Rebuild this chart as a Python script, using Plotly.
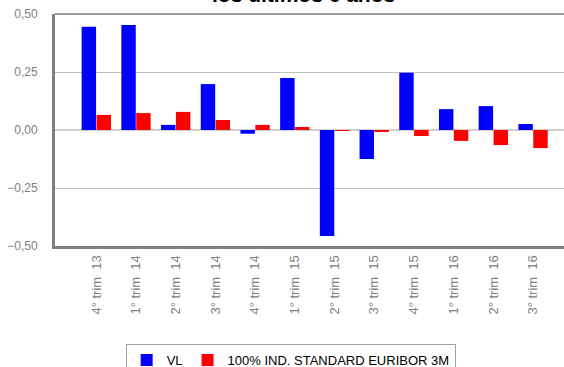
import plotly.graph_objects as go

# Quarterly returns: fund (VL) vs benchmark
quarters = ["4° trim  13", "1° trim  14", "2° trim  14", "3° trim  14",
            "4° trim  14", "1° trim  15", "2° trim  15", "3° trim  15",
            "4° trim  15", "1° trim  16", "2° trim  16", "3° trim  16"]
vl = [0.445, 0.453, 0.022, 0.198, -0.016, 0.224, -0.457, -0.125,
      0.247, 0.090, 0.103, 0.026]
benchmark = [0.065, 0.073, 0.078, 0.043, 0.022, 0.013, -0.003, -0.008,
             -0.026, -0.047, -0.065, -0.078]

y_ticks = [-0.5, -0.25, 0, 0.25, 0.5]

fig = go.Figure()
fig.add_trace(go.Bar(x=quarters, y=vl, name="VL", marker_color="#0000ff",
                     marker_line_width=0))
fig.add_trace(go.Bar(x=quarters, y=benchmark,
                     name="100% IND. STANDARD EURIBOR 3M",
                     marker_color="#ff0000", marker_line_width=0))

fig.update_layout(
    width=564, height=367,
    margin=dict(l=55, r=0, t=14, b=121),
    paper_bgcolor="white", plot_bgcolor="white",
    separators=",.",
    barmode="group", bargap=0.25, bargroupgap=0.03,
    font=dict(family="Liberation Sans, Arial, sans-serif", size=12, color="#808080"),
    showlegend=True,
    legend=dict(orientation="h", x=0.463, xanchor="center",
                y=1 - 344 / 367, yref="container", yanchor="top",
                bordercolor="#a0a0a0", borderwidth=1,
                font=dict(color="#000000", size=13),
                itemwidth=30, traceorder="normal"),
    xaxis=dict(range=[-1.04, 11.78], tickangle=-90, showgrid=False,
               showline=True, linecolor="#808080", linewidth=3,
               ticks="", ticklabelstandoff=1,
               tickfont=dict(size=13, color="#808080")),
    yaxis=dict(range=[-0.5, 0.5], tickvals=y_ticks, tickformat=".2f",
               showgrid=True, gridcolor="#c0c0c0", gridwidth=1,
               zeroline=True, zerolinecolor="#d0d0d0", zerolinewidth=2,
               showline=True, linecolor="#808080", linewidth=3,
               ticks="", ticklabelstandoff=12,
               tickfont=dict(size=12, color="#808080")),
    shapes=[dict(type="line", xref="paper", yref="paper", x0=0, x1=1,
                 y0=1, y1=1, line=dict(color="#999999", width=2))],
    annotations=[dict(text="<b>los últimos 6 años</b>", xref="paper",
                      yref="paper", x=(303.5 - 55) / 509, y=1.026,
                      xanchor="center", yanchor="bottom", showarrow=False,
                      font=dict(size=21, color="#000000"))],
)

fig.write_html("out.html")
